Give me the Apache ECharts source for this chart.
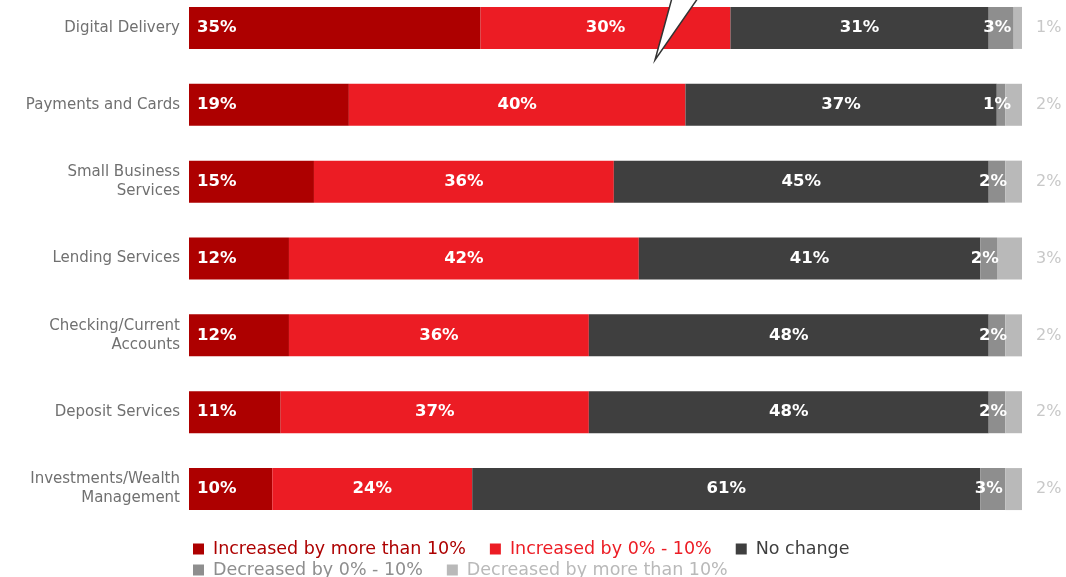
<!DOCTYPE html>
<html><head><meta charset="utf-8">
<script src="https://cdn.jsdelivr.net/npm/echarts@6/dist/echarts.min.js"></script>
<style>html,body{margin:0;padding:0;background:#fff}#c{width:1066px;height:577px}</style>
</head><body><div id="c"></div>
<script>
const categories = ["Digital Delivery","Payments and Cards","Small Business\nServices","Lending Services","Checking/Current\nAccounts","Deposit Services","Investments/Wealth\nManagement"];
const seriesNames = ["Increased by more than 10%","Increased by 0% - 10%","No change","Decreased by 0% - 10%","Decreased by more than 10%"];
const incMore = [35,19,15,12,12,11,10];
const incLess = [30,40,36,42,36,37,24];
const noChange = [31,37,45,41,48,48,61];
const decLess = [3,1,2,2,2,2,3];
const decMore = [1,2,2,3,2,2,2];
const colors = ["#ad0000","#ec1c24","#3f3f3f","#8e8e8e","#b9b9b9"];
const allData = [incMore,incLess,noChange,decLess,decMore];
const FONT = "DejaVu Sans";

// 100% stacked: each row normalised to its total
const rowTotals = categories.map((c,j)=>allData.reduce((s,a)=>s+a[j],0));

const labelCfg = [
  {show:true, position:'insideLeft', distance:8, color:'#fff', fontWeight:'bold', fontSize:16.5, fontFamily:FONT},
  {show:true, position:'inside', color:'#fff', fontWeight:'bold', fontSize:16.5, fontFamily:FONT},
  {show:true, position:'inside', color:'#fff', fontWeight:'bold', fontSize:16.5, fontFamily:FONT},
  {show:true, position:'inside', offset:[-4,0], color:'#fff', fontWeight:'bold', fontSize:16.5, fontFamily:FONT},
  {show:true, position:'right', distance:14, color:'#c8c8c8', fontWeight:'normal', fontSize:16, fontFamily:FONT}
];

const chart = echarts.init(document.getElementById('c'));
chart.setOption({
  animation:false,
  backgroundColor:'#fff',
  grid:{left:189, right:44, top:-10.5, bottom:49.5, outerBoundsMode:'none', containLabel:false},
  xAxis:{type:'value', min:0, max:100, show:false},
  yAxis:{type:'category', data:categories, inverse:true,
    axisLine:{show:false}, axisTick:{show:false},
    axisLabel:{color:'#707070', fontSize:15, fontFamily:FONT, margin:9, lineHeight:19, align:'right'}},
  legend:[
    {data:seriesNames.slice(0,3).map((n,i)=>({name:n, textStyle:{color:colors[i]}})),
     left:188, top:535, itemWidth:11, itemHeight:11, itemGap:24, icon:'rect',
     textStyle:{fontSize:17.5, fontFamily:FONT, padding:[0,0,0,4]}},
    {data:seriesNames.slice(3).map((n,i)=>({name:n, textStyle:{color:colors[i+3]}})),
     left:188, top:556, itemWidth:11, itemHeight:11, itemGap:24, icon:'rect',
     textStyle:{fontSize:17.5, fontFamily:FONT, padding:[0,0,0,4]}}
  ],
  series: seriesNames.map((n,i)=>({
    name:n, type:'bar', stack:'total', barWidth:42,
    itemStyle:{color:colors[i]},
    label:Object.assign({formatter:p=>allData[i][p.dataIndex]+'%'}, labelCfg[i]),
    data:allData[i].map((v,j)=>v/rowTotals[j]*100)
  })),
  graphic:[{type:'polygon', z:100, shape:{points:[[672,-2],[698,-2],[655,60]]},
    style:{fill:'#ffffff', stroke:'#333', lineWidth:1.5}}]
});
</script></body></html>
